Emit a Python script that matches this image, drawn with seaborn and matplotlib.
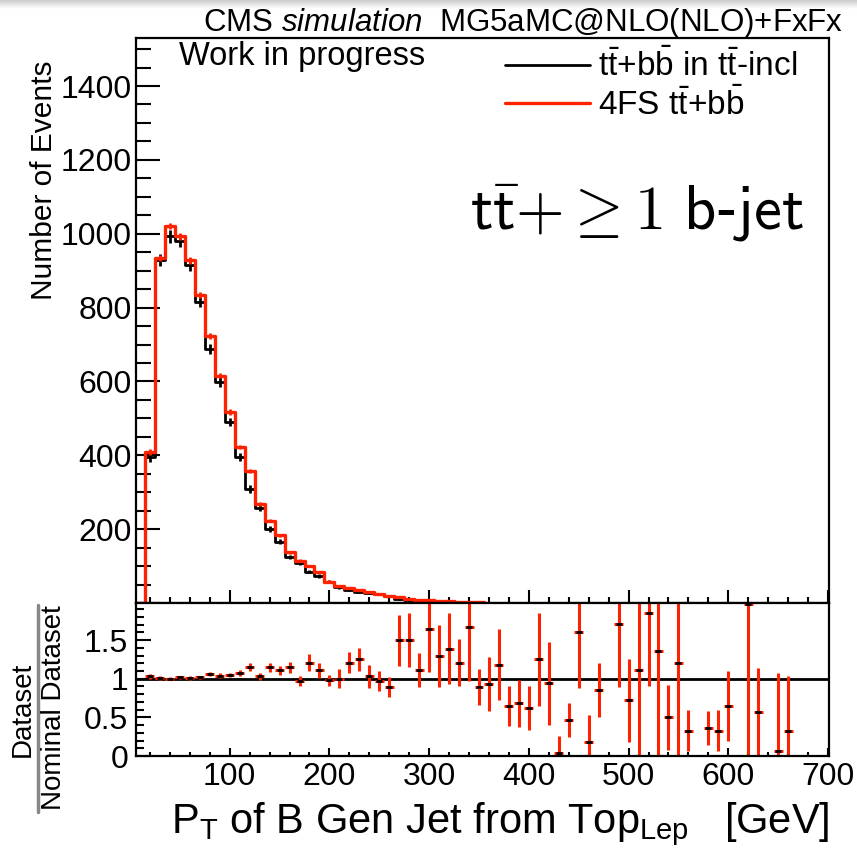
import numpy as np
import pandas as pd
import matplotlib
matplotlib.use("Agg")
import matplotlib.pyplot as plt
import seaborn as sns
from matplotlib.lines import Line2D
from matplotlib.ticker import MultipleLocator, FuncFormatter

# ---------------- data ----------------
bin_centers = [10, 20, 30, 40, 50, 60, 70, 80, 90, 100, 110, 120, 130, 140, 150,
               160, 170, 180, 190, 200, 210, 220, 230, 240, 250, 260, 270, 280,
               290, 300, 310, 320, 330, 340, 350]
incl_counts = [0, 395, 928, 993, 980, 914, 816, 688, 599, 490, 395, 309, 257, 200,
               166, 124, 108, 85, 74, 58, 42, 35, 30, 28, 24, 18, 10, 8, 8, 4, 5,
               4, 3, 2, 3]
incl_err = [0, 12, 16, 17, 16, 16, 15, 14, 13, 12, 11, 10, 9, 8, 7, 6, 6, 5, 5, 4,
            4, 3, 3, 3, 3, 2, 2, 2, 2, 1, 1, 1, 1, 1, 1]
fs4_counts = [0, 409, 934, 1021, 993, 928, 833, 724, 615, 517, 422, 357, 268, 223,
              184, 137, 115, 101, 83, 58, 45, 40, 36, 30, 24, 20, 15, 12, 9, 7, 6,
              5, 4, 4, 3]
fs4_err = [0, 8, 9, 9, 9, 9, 8, 8, 7, 7, 6, 6, 5, 5, 4, 4, 3, 3, 3, 3, 2, 2, 2, 2,
           2, 2, 1, 1, 1, 1, 1, 1, 1, 1, 1]

ratio_centers = [20, 30, 40, 50, 60, 70, 80, 90, 100, 110, 120, 130, 140, 150, 160,
                 170, 180, 190, 200, 210, 220, 230, 240, 250, 260, 270, 280, 290,
                 300, 310, 320, 330, 340, 350, 360, 370, 380, 390, 400, 410, 420,
                 430, 440, 450, 460, 470, 490, 500, 510, 520, 530, 540, 550, 560,
                 580, 590, 600, 620, 630, 650, 660]
ratio_values = [1.03, 1.01, 1.00, 1.02, 1.01, 1.02, 1.06, 1.04, 1.05, 1.07, 1.15,
                1.03, 1.15, 1.11, 1.15, 0.97, 1.21, 1.11, 0.98, 1.00, 1.21, 1.25,
                1.03, 0.97, 0.89, 1.50, 1.50, 1.11, 1.64, 1.29, 1.39, 1.21, 1.67,
                0.89, 0.93, 1.18, 0.65, 0.68, 0.62, 1.25, 0.94, 0.04, 0.47, 1.60,
                0.18, 0.86, 1.71, 0.72, 1.11, 1.85, 1.36, 0.50, 1.21, 0.33, 0.36,
                0.33, 0.65, 1.97, 0.57, 0.07, 0.33]
ratio_err = [0.03, 0.02, 0.02, 0.02, 0.02, 0.02, 0.03, 0.03, 0.03, 0.04, 0.05,
             0.05, 0.06, 0.06, 0.07, 0.06, 0.11, 0.10, 0.07, 0.12, 0.13, 0.15,
             0.15, 0.13, 0.13, 0.33, 0.35, 0.22, 0.55, 0.40, 0.46, 0.30, 0.70,
             0.23, 0.35, 0.46, 0.26, 0.30, 0.28, 0.60, 0.54, 0.22, 0.22, 0.72,
             0.35, 0.35, 0.82, 0.54, 1.20, 0.95, 1.36, 0.42, 1.25, 0.26, 0.22,
             0.26, 0.45, 2.00, 0.57, 1.00, 0.70]

x_ticks = [100, 200, 300, 400, 500, 600, 700]
legend_labels = [r"$\mathrm{t\bar{t}}$+$\mathrm{b\bar{b}}$ in $\mathrm{t\bar{t}}$-incl",
                 r"4FS $\mathrm{t\bar{t}}$+$\mathrm{b\bar{b}}$"]

# ---------------- style ----------------
sns.set_theme(style="ticks")
FONT = ["Liberation Sans", "DejaVu Sans"]
plt.rcParams["font.family"] = FONT
plt.rcParams["mathtext.fontset"] = "custom"
plt.rcParams["mathtext.rm"] = "Liberation Sans"
plt.rcParams["mathtext.it"] = "Liberation Sans:italic"
plt.rcParams["mathtext.bf"] = "Liberation Sans:bold"
plt.rcParams["mathtext.sf"] = "Liberation Sans"
plt.rcParams["axes.edgecolor"] = "black"
plt.rcParams["text.color"] = "black"
plt.rcParams["xtick.color"] = "black"
plt.rcParams["ytick.color"] = "black"

RED = "#ff2200"
W, H = 857, 858
def fx(px): return px / W
def fy(py): return 1 - py / H

fig = plt.figure(figsize=(W / 100, H / 100), dpi=100)
fig.patch.set_facecolor("white")

# light gray shadow band at top
bg = fig.add_axes([0, fy(9), 1, 9 / H])
bg.imshow(np.linspace(0.80, 1.0, 20).reshape(-1, 1), cmap="gray", vmin=0, vmax=1,
          aspect="auto", extent=[0, 1, 0, 1])
bg.axis("off")

L, R = 136, 829
ax = fig.add_axes([fx(L), fy(603), (R - L) / W, (603 - 38) / H])
axr = fig.add_axes([fx(L), fy(756), (R - L) / W, (756 - 603) / H])

centers = np.array(bin_centers, dtype=float)
df = pd.DataFrame({"pt": centers, "incl": incl_counts, "fs4": fs4_counts})
lo, hi = centers[0] - 5, centers[-1] + 5

sns.histplot(data=df, x="pt", weights="incl", binwidth=10, binrange=(lo, hi),
             element="step", fill=False, color="black", linewidth=2.0, ax=ax,
             zorder=2)
ax.errorbar(centers, incl_counts, yerr=incl_err, fmt="none", ecolor="black",
            elinewidth=2.0, zorder=2)
sns.histplot(data=df, x="pt", weights="fs4", binwidth=10, binrange=(lo, hi),
             element="step", fill=False, color=RED, linewidth=2.4, ax=ax, zorder=3)
ax.errorbar(centers, fs4_counts, yerr=fs4_err, fmt="none", ecolor=RED,
            elinewidth=2.0, zorder=3)

ax.set_xlim(6, 701)
ax.set_ylim(0, 1530)
ax.set_xlabel("")
ax.set_ylabel("")
ax.xaxis.set_major_locator(MultipleLocator(100))
ax.xaxis.set_minor_locator(MultipleLocator(20))
ax.yaxis.set_major_locator(MultipleLocator(200))
ax.yaxis.set_minor_locator(MultipleLocator(50))
ax.yaxis.set_major_formatter(FuncFormatter(lambda v, p: "" if v == 0 else f"{v:g}"))
ax.tick_params(axis="both", which="both", direction="in", top=False, right=False,
               width=1.5, labelbottom=False)
ax.tick_params(axis="y", which="major", length=17, pad=3, labelsize=23)
ax.tick_params(axis="y", which="minor", length=10.5)
ax.tick_params(axis="x", which="major", length=9.5)
ax.tick_params(axis="x", which="minor", length=4.2)
for s in ax.spines.values():
    s.set_linewidth(1.6)
    s.set_visible(True)
    s.set_zorder(5)

# ratio panel
rdf = pd.DataFrame({"pt": ratio_centers, "ratio": ratio_values})
axr.axhline(1, color="black", lw=2.0, zorder=1)
axr.errorbar(ratio_centers, ratio_values, xerr=4.5, yerr=ratio_err, fmt="none",
             ecolor=RED, elinewidth=2.2, zorder=2)
sns.scatterplot(data=rdf, x="pt", y="ratio", marker="_", color="black", s=16,
                linewidth=2.0, ax=axr, zorder=3)
axr.set_xlim(6, 701)
axr.set_ylim(0, 1.98)
axr.set_xlabel("")
axr.set_ylabel("")
axr.set_xticks(x_ticks)
axr.xaxis.set_minor_locator(MultipleLocator(20))
axr.yaxis.set_major_locator(MultipleLocator(0.5))
axr.yaxis.set_minor_locator(MultipleLocator(0.1))
axr.yaxis.set_major_formatter(FuncFormatter(lambda v, p: f"{v:g}"))
axr.tick_params(axis="both", which="both", direction="in", top=False, right=False,
                width=1.5)
axr.tick_params(axis="y", which="major", length=11, pad=5.5, labelsize=23)
axr.tick_params(axis="y", which="minor", length=6)
axr.tick_params(axis="x", which="major", length=6, pad=4.5, labelsize=23)
axr.tick_params(axis="x", which="minor", length=3)
for s in axr.spines.values():
    s.set_linewidth(1.6)
    s.set_visible(True)
    s.set_zorder(5)

# texts
fig.text(fx(843), fy(23), r"CMS $\mathit{simulation}$  MG5aMC@NLO(NLO)+FxFx",
         ha="right", va="center", fontsize=22.5)
fig.text(fx(179), fy(57), "Work in progress", ha="left", va="center", fontsize=23.5)
fig.text(fx(470), fy(213), r"$\mathsf{t\bar{t}}{+}{\geq}\mathsf{1\ b}$-$\mathsf{jet}$",
         math_fontfamily="cm", ha="left", va="center", fontsize=45)
fig.text(fx(44), fy(180), "Number of Events", rotation=90, ha="center", va="center",
         fontsize=21.5)
fig.text(fx(23), fy(709), "Dataset", rotation=90, ha="center", va="center", fontsize=20)
fig.text(fx(54), fy(708), "Nominal Dataset", rotation=90, ha="center", va="center",
         fontsize=20)
fig.add_artist(Line2D([fx(38), fx(38)], [fy(605), fy(812)], color="#888888", lw=2.5))
fig.text(fx(830), fy(833), r"P$_\mathrm{T}$ of B Gen Jet from Top$_\mathrm{Lep}$   [GeV]",
         ha="right", va="baseline", fontsize=30)

handles = [Line2D([], [], color="black", lw=2.0), Line2D([], [], color=RED, lw=2.4)]
fig.legend(handles=handles, labels=legend_labels, loc="upper left",
           bbox_to_anchor=(fx(505), fy(49)), frameon=False, fontsize=24,
           handlelength=2.55, handletextpad=0.25, borderpad=0, borderaxespad=0,
           labelspacing=0.12)

fig.savefig("out.png", dpi=100)
